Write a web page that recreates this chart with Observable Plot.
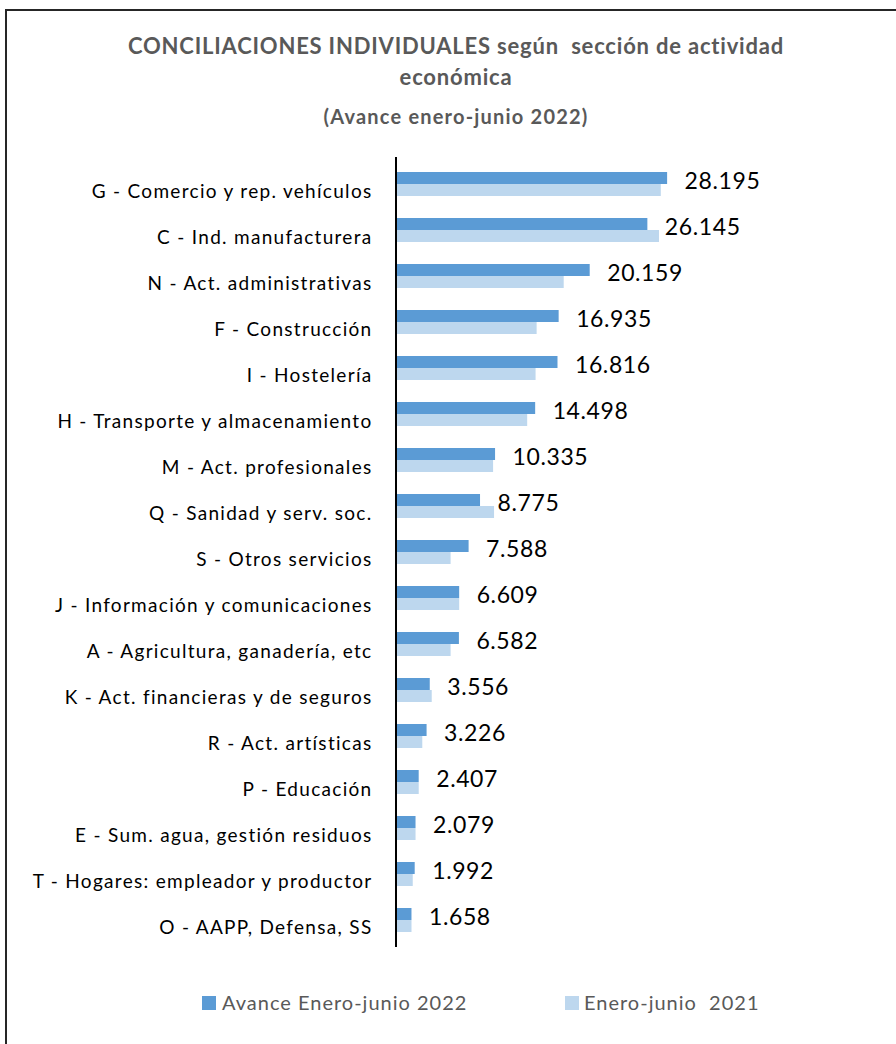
<!DOCTYPE html>
<html>
<head>
<meta charset="utf-8">
<script src="https://cdn.jsdelivr.net/npm/d3@7"></script>
<script src="https://cdn.jsdelivr.net/npm/@observablehq/plot@0.6"></script>
<style>
  html, body { margin: 0; padding: 0; background: #fff; }
  body { width: 896px; height: 1044px; position: relative; overflow: hidden; font-family: Lato, "Open Sans", sans-serif; }
  #frame { position: absolute; left: 5px; top: 9px; width: 1000px; height: 1100px; border: 2px solid #262626; box-sizing: border-box; }
  .t { position: absolute; left: 0; width: 912px; text-align: center; color: #595959; font-weight: bold; white-space: pre; line-height: 1; }
  #chart { position: absolute; left: 0; top: 140px; }
  .leg { position: absolute; font-size: 20px; color: #595959; white-space: pre; line-height: 1; letter-spacing: 1px; }
  .sw { position: absolute; width: 14px; height: 14px; }
  svg g[aria-label="y-axis tick label"] text { letter-spacing: 1.3px; }
  svg g[aria-label="text"] text { letter-spacing: 0.6px; }
</style>
</head>
<body>
<div id="frame"></div>
<div class="t" style="top:35px;font-size:22px;letter-spacing:0.8px;">CONCILIACIONES INDIVIDUALES según  sección de actividad</div>
<div class="t" style="top:66px;font-size:22px;letter-spacing:0.8px;">económica</div>
<div class="t" style="top:106px;font-size:20px;letter-spacing:1.2px;">(Avance enero-junio 2022)</div>
<div id="chart"></div>
<div class="sw" style="left:202px;top:996px;background:#5B9BD5;"></div>
<div class="leg" style="left:222px;top:992px;">Avance Enero-junio 2022</div>
<div class="sw" style="left:565px;top:996px;background:#BDD7EE;"></div>
<div class="leg" style="left:584px;top:992px;">Enero-junio  2021</div>
<script>
const categories = [
  "G - Comercio y rep. vehículos",
  "C - Ind. manufacturera",
  "N - Act. administrativas",
  "F - Construcción",
  "I - Hostelería",
  "H - Transporte y almacenamiento",
  "M - Act. profesionales",
  "Q - Sanidad y serv. soc.",
  "S - Otros servicios",
  "J - Información y comunicaciones",
  "A - Agricultura, ganadería, etc",
  "K - Act. financieras y de seguros",
  "R - Act. artísticas",
  "P - Educación",
  "E - Sum. agua, gestión residuos",
  "T - Hogares: empleador y productor",
  "O - AAPP, Defensa, SS"
];
const values2022 = [28195, 26145, 20159, 16935, 16816, 14498, 10335, 8775, 7588, 6609, 6582, 3556, 3226, 2407, 2079, 1992, 1658];
const values2021 = [27540, 27350, 17460, 14650, 14540, 13670, 10130, 10230, 5720, 6610, 5720, 3760, 2780, 2410, 2080, 1790, 1660];

const rows = categories.map((c, i) => ({cat: c, v22: values2022[i], v21: values2021[i]}));
const es = d3.formatLocale({decimal: ",", thousands: ".", grouping: [3], currency: ["", " €"]});
const fmt = es.format(",d");

const chart = Plot.plot({
  width: 896,
  height: 830,
  marginLeft: 395.5,
  marginRight: 211.5,
  marginTop: 17,
  marginBottom: 23,
  style: {fontFamily: "Lato, 'Open Sans', sans-serif", background: "transparent", overflow: "visible"},
  x: {domain: [0, 30000], axis: null},
  y: {domain: categories, paddingInner: 0.48, paddingOuter: 0.3, axis: null},
  marks: [
    Plot.barX(rows, {y: "cat", x: "v22", fill: "#5B9BD5", insetBottom: 12}),
    Plot.barX(rows, {y: "cat", x: "v21", fill: "#BDD7EE", insetTop: 12}),
    Plot.ruleX([0], {stroke: "#000", strokeWidth: 2}),
    Plot.axisY({tickSize: 0, tickPadding: 23.5, fontSize: 19, dy: 7, fill: "#000", label: null}),
    Plot.text(rows, {y: "cat", x: "v22", text: d => fmt(d.v22), textAnchor: "start", dx: 17, dy: -3, fontSize: 23, fill: "#000"})
  ]
});
document.getElementById("chart").appendChild(chart);
</script>
</body>
</html>
